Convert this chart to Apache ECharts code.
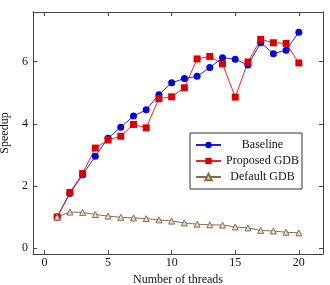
<html>
  <head>
    <meta charset="utf-8" />
    <title>Speedup</title>
    <script type="text/javascript" src="https://cdn.jsdelivr.net/npm/echarts@6/dist/echarts.min.js"></script>
  </head>
  <body style="margin:0;">
      <div id="main" style="width:330px;height:285px;"></div>
      <script type="text/javascript">
        var threads = [1, 2, 3, 4, 5, 6, 7, 8, 9, 10, 11, 12, 13, 14, 15, 16, 17, 18, 19, 20];
        var baseline = [1.0, 1.76, 2.36, 2.96, 3.54, 3.89, 4.25, 4.45, 4.94, 5.32, 5.46, 5.53, 5.81, 6.13, 6.08, 5.89, 6.61, 6.26, 6.37, 6.95];
        var proposed = [1.0, 1.79, 2.4, 3.22, 3.48, 3.6, 3.98, 3.87, 4.81, 4.87, 5.16, 6.09, 6.17, 5.93, 4.86, 5.99, 6.72, 6.61, 6.59, 5.96];
        var defaultGdb = [1.0, 1.16, 1.15, 1.08, 1.03, 0.99, 0.97, 0.95, 0.91, 0.87, 0.81, 0.77, 0.75, 0.74, 0.68, 0.65, 0.57, 0.55, 0.51, 0.49];
        var xTicks = [0, 5, 10, 15, 20];
        var yTicks = [0, 2, 4, 6];

        var font = 'Liberation Serif';
        var frame = '#444';

        function pairs(ys) {
            return threads.map((t, i) => [t, ys[i]]);
        }

        var myChart = echarts.init(document.getElementById('main'));

        var option = {
          animation: false,
          grid: { left: 33, right: 7, top: 12, bottom: 31, outerBoundsMode: 'none', containLabel: false },
          legend: {
              orient: 'vertical',
              left: 190,
              top: 133,
              padding: [6, 3, 6, 5],
              itemGap: 4,
              itemWidth: 25,
              itemHeight: 8,
              borderColor: '#333',
              borderWidth: 1,
              borderRadius: 0,
              formatter: '{t|{name}}',
              textStyle: {
                  rich: { t: { fontFamily: font, fontSize: 12, color: '#111', width: 73, align: 'center', lineHeight: 13 } }
              },
              data: ['Baseline', 'Proposed GDB', 'Default GDB'],
          },
          xAxis: [
            {
              type: 'value',
              min: -0.9,
              max: 21.9,
              name: 'Number of threads',
              nameLocation: 'middle',
              nameGap: 15,
              nameTextStyle: { fontFamily: font, fontSize: 12, color: '#111' },
              axisLine: { onZero: false, lineStyle: { color: frame } },
              axisTick: { inside: true, length: 4, customValues: xTicks, lineStyle: { color: frame } },
              axisLabel: { customValues: xTicks, fontFamily: font, fontSize: 12, color: '#111', margin: 3 },
              splitLine: { show: false },
            },
            {
              type: 'value',
              position: 'top',
              min: -0.9,
              max: 21.9,
              axisLine: { onZero: false, lineStyle: { color: frame } },
              axisTick: { inside: true, length: 4, customValues: xTicks, lineStyle: { color: frame } },
              axisLabel: { show: false },
              splitLine: { show: false },
            }
          ],
          yAxis: [
            {
              type: 'value',
              min: -0.19,
              max: 7.6,
              name: 'Speedup',
              nameLocation: 'middle',
              nameGap: 20,
              nameTextStyle: { fontFamily: font, fontSize: 12, color: '#111' },
              axisLine: { show: true, onZero: false, lineStyle: { color: frame } },
              axisTick: { show: true, inside: true, length: 4, customValues: yTicks, lineStyle: { color: frame } },
              axisLabel: { customValues: yTicks, fontFamily: font, fontSize: 12, color: '#111', margin: 5 },
              splitLine: { show: false },
            },
            {
              type: 'value',
              position: 'right',
              min: -0.19,
              max: 7.6,
              axisLine: { show: true, onZero: false, lineStyle: { color: frame } },
              axisTick: { show: true, inside: true, length: 4, customValues: yTicks, lineStyle: { color: frame } },
              axisLabel: { show: false },
              splitLine: { show: false },
            }
          ],
          series: [
            {
              name: 'Baseline',
              type: 'line',
              data: pairs(baseline),
              symbol: 'circle',
              symbolSize: 7,
              color: '#0000dd',
              lineStyle: { width: 1, color: '#2020ee' },
              itemStyle: { color: '#0000dd' },
            },
            {
              name: 'Proposed GDB',
              type: 'line',
              data: pairs(proposed),
              symbol: 'rect',
              symbolSize: 7,
              color: '#dd0000',
              lineStyle: { width: 1, color: '#ee2020' },
              itemStyle: { color: '#dd0000' },
            },
            {
              name: 'Default GDB',
              type: 'line',
              data: pairs(defaultGdb),
              symbol: 'triangle',
              symbolSize: 6,
              color: '#8b6a48',
              lineStyle: { width: 1, color: '#8b6a48' },
              itemStyle: { color: '#e9dcc4', borderColor: '#8b6a48', borderWidth: 1 },
            }
          ]
        };
        myChart.setOption(option);
      </script>
  </body>
</html>
